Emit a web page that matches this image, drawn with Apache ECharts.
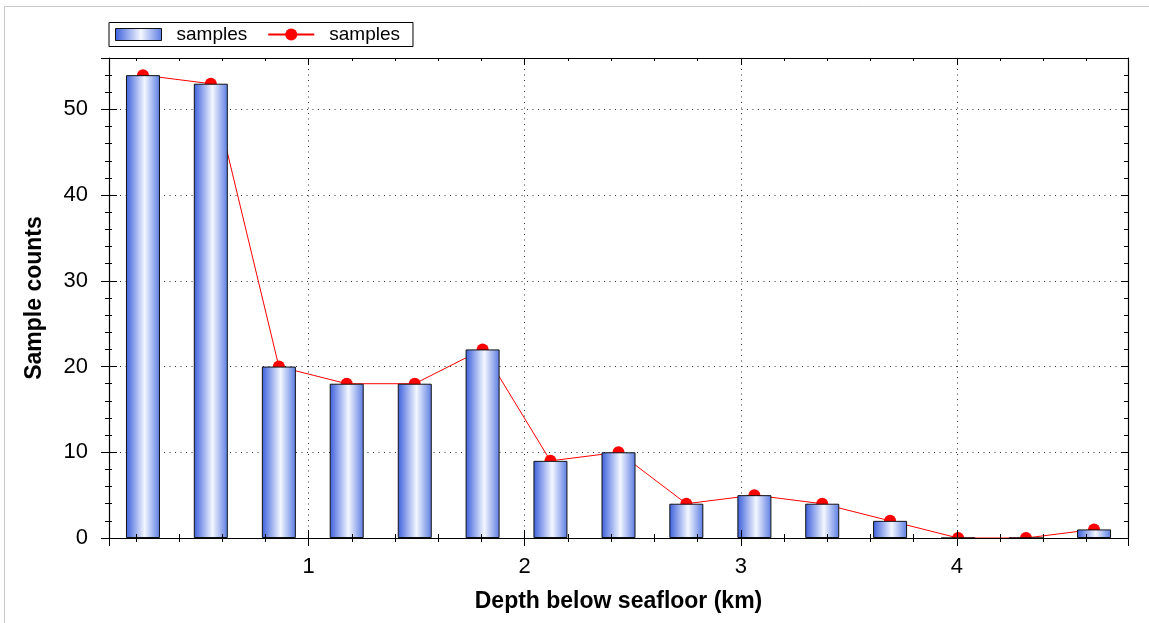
<!DOCTYPE html>
<html>
<head>
<meta charset="utf-8">
<script src="https://cdn.jsdelivr.net/npm/echarts@6/dist/echarts.min.js"></script>
<style>
  html, body { margin: 0; padding: 0; background: #ffffff; }
  #chart { width: 1149px; height: 623px; }
</style>
</head>
<body>
<div id="chart"></div>
<script>
// Bin centres along depth (km) and the number of samples in each bin
const depthKm = [0.233, 0.547, 0.862, 1.176, 1.491, 1.805, 2.119, 2.434, 2.748, 3.063, 3.377, 3.691, 4.006, 4.320, 4.635];
const sampleCounts = [54, 53, 20, 18, 18, 22, 9, 10, 4, 5, 4, 2, 0, 0, 1];
const binWidthKm = 0.3144;
const countMax = 56;
const seriesLabel = 'samples';
const xTitle = 'Depth below seafloor (km)';
const yTitle = 'Sample counts';

const FONT = '"Liberation Sans", Arial, Helvetica, sans-serif';
const xMin = depthKm[0] - binWidthKm / 2;
const xMax = depthKm[depthKm.length - 1] + binWidthKm / 2;
const points = depthKm.map((d, i) => [d, sampleCounts[i]]);
const barName = seriesLabel + ' (bars)';
const lineName = seriesLabel + ' (line)';

const barFill = new echarts.graphic.LinearGradient(0, 0, 1, 0, [
  { offset: 0, color: '#3a5fdc' },
  { offset: 0.55, color: '#f4f7ff' },
  { offset: 1, color: '#5a7ce3' }
]);

const dotted = { show: true, lineStyle: { color: '#333', width: 1, type: [1, 4.5] } };
const frameLine = { show: true, onZero: false, lineStyle: { color: '#000', width: 1.2 } };

// Axes that only draw frame lines and tick marks (drawn above the series)
function tickAxis(position, lineShown, inside, len, minorLen, isX) {
  return {
    type: 'value', position: position, z: 5,
    min: isX ? xMin : 0, max: isX ? xMax : countMax,
    axisLine: lineShown ? frameLine : { show: false, onZero: false },
    axisTick: { show: true, inside: inside, length: len, lineStyle: { color: '#000', width: 1 } },
    minorTick: { show: true, splitNumber: 5, length: minorLen, lineStyle: { color: '#000', width: 1 } },
    axisLabel: { show: false },
    splitLine: { show: false },
    minorSplitLine: { show: false }
  };
}

function intLabelX(v) {
  return Math.abs(v - Math.round(v)) < 1e-6 ? String(Math.round(v)) : '';
}
function intLabelY(v) {
  return v % 10 === 0 ? String(v) : '';
}

// Legend swatch for the bars: a 46x12 box centred in a 46x15 icon cell
const barSwatch = 'path://M0,0M0,15M0,1.5L46,1.5L46,13.5L0,13.5Z';

const chart = echarts.init(document.getElementById('chart'), null, { renderer: 'canvas' });
chart.setOption({
  animation: false,
  backgroundColor: '#ffffff',
  grid: { left: 109, right: 21, top: 58, bottom: 85, outerBoundsMode: 'none' },
  legend: {
    left: 109, top: 22.5, orient: 'horizontal',
    padding: [2.5, 13, 2.5, 6],
    itemWidth: 46, itemHeight: 15, itemGap: 20,
    borderColor: '#000', borderWidth: 1, backgroundColor: '#fff',
    textStyle: { fontFamily: FONT, fontSize: 19, color: '#000', padding: [0, 0, 0, 10] },
    formatter: () => seriesLabel,
    data: [
      { name: barName, icon: barSwatch, itemStyle: { borderColor: '#111', borderWidth: 1 } },
      { name: lineName }
    ]
  },
  graphic: [
    { type: 'rect', z: 0, silent: true, shape: { x: 4.5, y: 6.5, width: 1300, height: 800 },
      style: { fill: 'none', stroke: '#c8c8c8', lineWidth: 1 } },
    // keeps symbols on the zero line from spilling below the axis
    { type: 'rect', z: 3, silent: true, shape: { x: 109, y: 539, width: 1019, height: 12 },
      style: { fill: '#ffffff' } }
  ],
  xAxis: [
    {
      type: 'value', position: 'bottom', min: xMin, max: xMax, z: 0,
      name: xTitle, nameLocation: 'middle', nameGap: 52,
      nameTextStyle: { fontFamily: FONT, fontSize: 23, fontWeight: 'bold', color: '#000' },
      axisLine: { show: false, onZero: false },
      axisTick: { show: false },
      minorTick: { show: false },
      axisLabel: { fontFamily: FONT, fontSize: 22, color: '#000', margin: 18, formatter: intLabelX },
      splitLine: dotted
    },
    tickAxis('bottom', true, false, 8, 4, true),
    tickAxis('bottom', false, true, 8, 4, true),
    tickAxis('top', true, true, 7, 3, true)
  ],
  yAxis: [
    {
      type: 'value', position: 'left', min: 0, max: countMax, z: 0,
      name: yTitle, nameLocation: 'middle', nameGap: 63,
      nameTextStyle: { fontFamily: FONT, fontSize: 23, fontWeight: 'bold', color: '#000' },
      axisLine: { show: false, onZero: false },
      axisTick: { show: false },
      minorTick: { show: false },
      axisLabel: { fontFamily: FONT, fontSize: 22, color: '#000', margin: 21, formatter: intLabelY },
      splitLine: dotted
    },
    tickAxis('left', true, false, 8, 4, false),
    tickAxis('left', false, true, 8, 3, false),
    tickAxis('right', true, true, 7, 4, false)
  ],
  series: [
    {
      name: barName, type: 'bar', xAxisIndex: 0, yAxisIndex: 0, z: 2,
      barWidth: 34,
      itemStyle: { color: barFill, borderColor: '#111', borderWidth: 1 },
      data: points
    },
    {
      name: lineName, type: 'line', xAxisIndex: 0, yAxisIndex: 0, z: 1,
      symbol: 'circle', symbolSize: 12, showSymbol: true,
      itemStyle: { color: '#ff0000' },
      lineStyle: { color: '#ff0000', width: 1 },
      data: points
    }
  ]
});
</script>
</body>
</html>
